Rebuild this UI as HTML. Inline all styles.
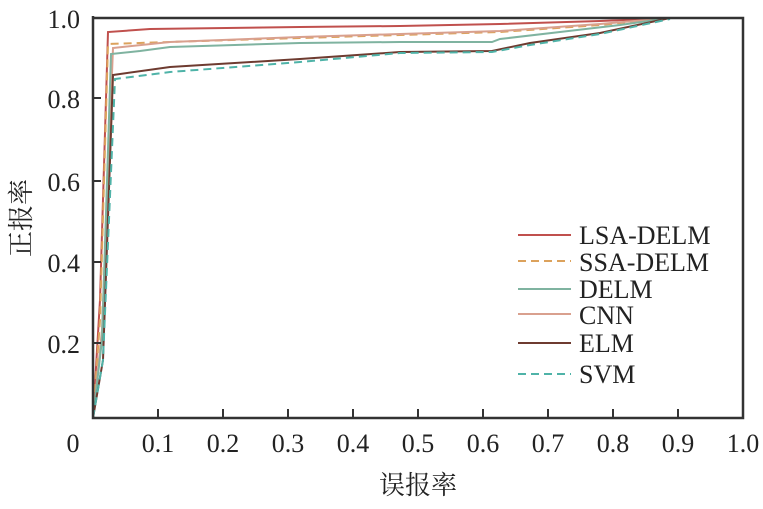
<!DOCTYPE html>
<html><head><meta charset="utf-8"><style>
body{margin:0;background:#fff;}
svg text{font-family:"Liberation Serif","Noto Serif CJK SC",serif;fill:#222;}
</style></head><body>
<svg width="763" height="504" viewBox="0 0 763 504" xmlns="http://www.w3.org/2000/svg">
<rect width="763" height="504" fill="#fff"/>
<g fill="none" stroke-width="2">
<polyline stroke="#c0504d" points="93,418 100,300 108,32 150,29 300,27 400,26 500,24 600,21 670,18 743,18"/>
<polyline stroke="#dca25c" stroke-dasharray="8,5" points="93,418 100,320 108,44 200,41 300,38 400,35 500,32 600,25 670,18 743,18"/>
<polyline stroke="#d9a08e" points="93,418 102,330 113,48 170,42 300,37 400,34 500,31 600,24 670,18 743,18"/>
<polyline stroke="#7fb3a0" points="93,418 102,340 111,54 140,51 170,47 300,43 400,42 492,42 500,39 560,32 620,25 670,18 743,18"/>
<polyline stroke="#6e3b30" points="93,418 103,360 113,75 170,67 300,59 400,52 492,51 530,43 600,33 670,18"/>
<polyline stroke="#4fb3a8" stroke-dasharray="8,5" points="93,418 103,360 115,79 170,72 300,62 400,53 492,52 530,45 600,34 670,19"/>
</g>
<g stroke="#333" stroke-width="2.5" fill="none">
<polyline points="93,16 93,418 743,418 743,18 93,18"/>
</g>
<g stroke="#333" stroke-width="2">
<line x1="93" y1="98" x2="101" y2="98"/><line x1="93" y1="181" x2="101" y2="181"/>
<line x1="93" y1="262" x2="101" y2="262"/><line x1="93" y1="343" x2="101" y2="343"/>
<line x1="158" y1="418" x2="158" y2="409"/><line x1="223" y1="418" x2="223" y2="409"/>
<line x1="288" y1="418" x2="288" y2="409"/><line x1="353" y1="418" x2="353" y2="409"/>
<line x1="418" y1="418" x2="418" y2="409"/><line x1="483" y1="418" x2="483" y2="409"/>
<line x1="548" y1="418" x2="548" y2="409"/><line x1="613" y1="418" x2="613" y2="409"/>
<line x1="678" y1="418" x2="678" y2="409"/>
</g>
<g font-size="26" text-anchor="end">
<text x="80" y="28">1.0</text><text x="80" y="108">0.8</text><text x="80" y="191">0.6</text>
<text x="80" y="272">0.4</text><text x="80" y="353">0.2</text>
</g>
<g font-size="26" text-anchor="middle">
<text x="73" y="452">0</text><text x="158" y="452">0.1</text><text x="223" y="452">0.2</text>
<text x="288" y="452">0.3</text><text x="353" y="452">0.4</text><text x="418" y="452">0.5</text>
<text x="483" y="452">0.6</text><text x="548" y="452">0.7</text><text x="613" y="452">0.8</text>
<text x="678" y="452">0.9</text><text x="743" y="452">1.0</text>
</g>
<text x="418" y="494" font-size="26" text-anchor="middle">误报率</text>
<text transform="translate(30,218) rotate(-90)" font-size="26" text-anchor="middle">正报率</text>
<g stroke-width="2">
<line x1="518" y1="235" x2="571" y2="235" stroke="#c0504d"/>
<line x1="518" y1="261" x2="571" y2="261" stroke="#dca25c" stroke-dasharray="8,5"/>
<line x1="518" y1="289" x2="571" y2="289" stroke="#7fb3a0"/>
<line x1="518" y1="314" x2="571" y2="314" stroke="#d9a08e"/>
<line x1="518" y1="343" x2="571" y2="343" stroke="#6e3b30"/>
<line x1="518" y1="374" x2="571" y2="374" stroke="#4fb3a8" stroke-dasharray="8,5"/>
</g>
<g font-size="26">
<text x="579" y="244">LSA-DELM</text><text x="579" y="271">SSA-DELM</text>
<text x="579" y="298">DELM</text><text x="579" y="324">CNN</text>
<text x="579" y="352">ELM</text><text x="579" y="383">SVM</text>
</g>
</svg>
</body></html>
